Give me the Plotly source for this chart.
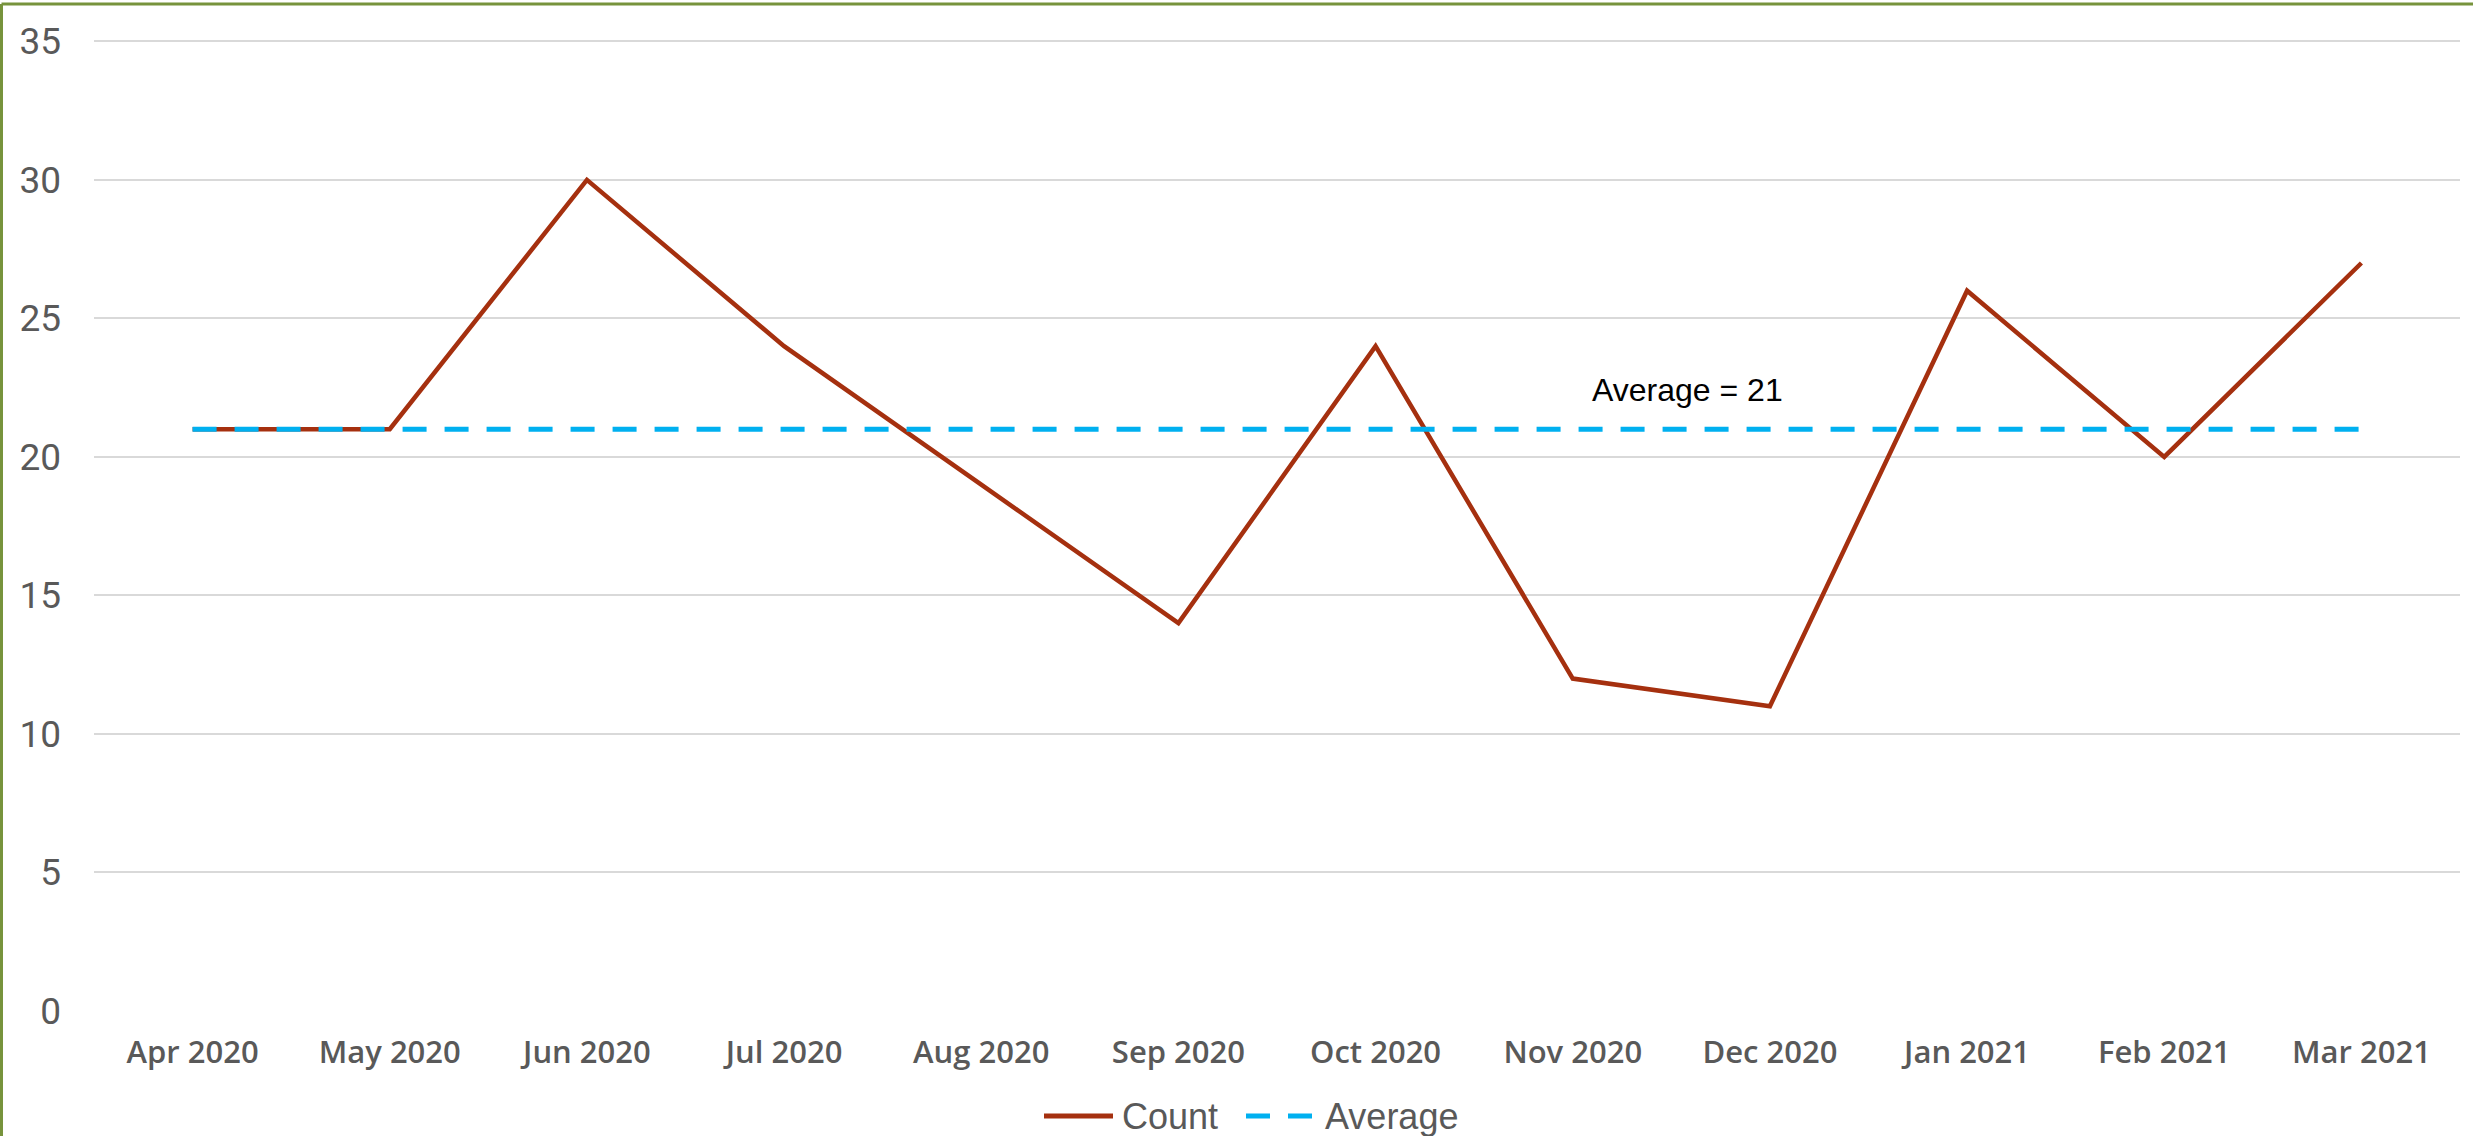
import plotly.graph_objects as go

months = ["Apr 2020", "May 2020", "Jun 2020", "Jul 2020", "Aug 2020", "Sep 2020",
          "Oct 2020", "Nov 2020", "Dec 2020", "Jan 2021", "Feb 2021", "Mar 2021"]
count = [21, 21, 30, 24, 19, 14, 24, 12, 11, 26, 20, 27]
average = [21] * len(months)
avg_label = "Average = 21"
series_names = ["Count", "Average"]
colors = ["#A5300F", "#00B0F0"]

W, H = 2473, 1136
L, R, T, B = 94, 13, 40, 125
pw, ph = W - L - R, H - T - B

fig = go.Figure()
fig.add_trace(go.Scatter(x=months, y=count, mode="lines", name=series_names[0],
                         line=dict(color=colors[0], width=4.5)))
fig.add_trace(go.Scatter(x=months, y=average, mode="lines", name=series_names[1],
                         line=dict(color=colors[1], width=5, dash="24px,18px")))

fig.add_annotation(x=7.58, y=22.4, xref="x", yref="y", text=avg_label, showarrow=False,
                   font=dict(family="Liberation Sans, Arial", size=32, color="#000000"))

def px_x(p):
    return (p - L) / pw

def px_y(p):
    return (H - B - p) / ph

# chart-area border (top and left edges visible)
fig.add_shape(type="rect", xref="paper", yref="paper", layer="below",
              x0=px_x(-2), x1=px_x(W + 5), y0=px_y(0), y1=px_y(-5),
              fillcolor="#D7E4BD", line=dict(width=0))
fig.add_shape(type="line", xref="paper", yref="paper",
              x0=px_x(1.5), x1=px_x(W + 5), y0=px_y(4), y1=px_y(4),
              line=dict(color="#77933C", width=3))
fig.add_shape(type="line", xref="paper", yref="paper",
              x0=px_x(1.5), x1=px_x(1.5), y0=px_y(4), y1=px_y(H + 5),
              line=dict(color="#77933C", width=3))

# custom legend (Excel style: longer sample lines)
leg_y = 1116
legend_items = [
    (1044, 1113, 1120, dict(color=colors[0], width=5)),
    (1246, 1312, 1323, dict(color=colors[1], width=5, dash="24px,18px")),
]
for name, (lx0, lx1, tx, ln) in zip(series_names, legend_items):
    fig.add_shape(type="line", xref="paper", yref="paper",
                  x0=px_x(lx0), x1=px_x(lx1), y0=px_y(leg_y), y1=px_y(leg_y), line=ln)
    fig.add_annotation(x=px_x(tx), y=px_y(leg_y), xref="paper", yref="paper",
                       xanchor="left", yanchor="middle", text=name, showarrow=False,
                       font=dict(family="Liberation Sans Narrow, Arial Narrow, Liberation Sans",
                                 size=36, color="#595959"))

fig.update_layout(
    width=W, height=H,
    margin=dict(l=L, r=R, t=T, b=B, autoexpand=False),
    paper_bgcolor="white", plot_bgcolor="white",
    showlegend=False,
    xaxis=dict(type="category", range=[-0.5, 11.5], showgrid=False, zeroline=False, showline=False,
               automargin=False,
               ticks="", tickfont=dict(family="Open Sans", size=31, color="#595959", weight=600),
               ticklabelstandoff=20),
    yaxis=dict(range=[0, 35.05], dtick=5, showgrid=True, gridcolor="#D9D9D9", gridwidth=2,
               automargin=False,
               zeroline=False, showline=False, ticks="",
               tickfont=dict(family="Roboto", size=37, color="#595959"),
               ticklabelstandoff=32),
)

fig.write_html("out.html", config={"displayModeBar": False},
               post_script="document.body.style.margin='0';document.body.style.overflow='hidden';")
